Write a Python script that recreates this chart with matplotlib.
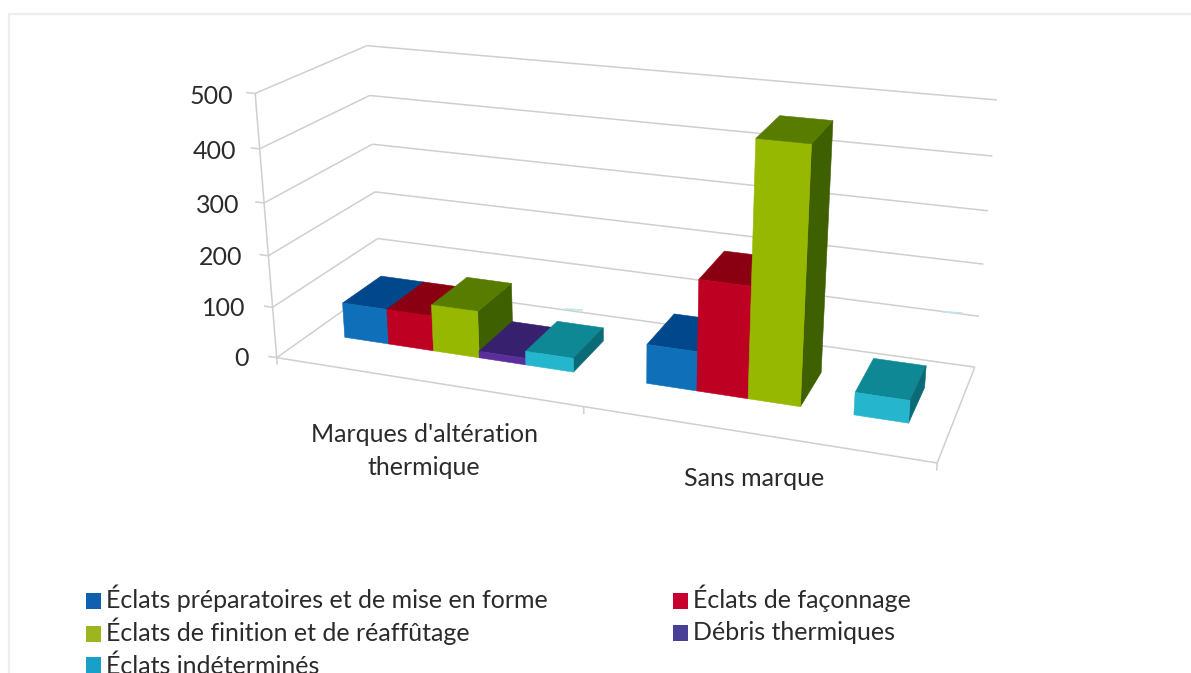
import numpy as np
import matplotlib
matplotlib.use("Agg")
import matplotlib.pyplot as plt
from matplotlib.lines import Line2D
from matplotlib.patches import Patch
from mpl_toolkits.mplot3d import Axes3D  # noqa: F401
from mpl_toolkits.mplot3d.art3d import Line3DCollection

# ---- data -------------------------------------------------------------
categories = ["Marques d'altération\nthermique", "Sans marque"]
series_names = ["Éclats préparatoires et de mise en forme", "Éclats de façonnage",
                "Éclats de finition et de réaffûtage", "Débris thermiques",
                "Éclats indéterminés"]
prep = [70, 75]
faconnage = [70, 210]
finition = [92, 470]
debris = [13, 0]
indetermines = [27, 42]
series_values = [prep, faconnage, finition, debris, indetermines]
z_ticks = [0, 100, 200, 300, 400, 500]

# ---- styles -----------------------------------------------------------
front = ["#0F6FB9", "#BE0022", "#97B800", "#5A2E9C", "#25B6CE"]
top = ["#00478C", "#8A0012", "#587C00", "#37206E", "#0E8894"]
side = ["#003A70", "#6E000E", "#3F6000", "#2A1858", "#0A6A75"]
legend_cols = ["#1060B0", "#C8002F", "#9FB520", "#4A3F96", "#18A0C8"]
FONT = "Lato"
FS = 18
W, H = 1191, 673
GRID = "#CFCFCF"
TXT = "#2B2B2B"

# ---- camera: box corners (cat, depth, value/500) seen at pixel positions
src = np.array([[0, 0, 0], [0, 0, 1], [0, 1, 0], [0, 1, 1],
                [1, 1, 0], [1, 1, 1], [1, 0, 0]], float)
dst = np.array([[277, 358], [255, 93], [380, 284], [367, 46],
                [975, 367], [997, 100], [937, 463]], float)
A, b = [], []
for (X, Y, Z), (u, v) in zip(src, dst):
    A.append([X, Y, Z, 1, 0, 0, 0, 0, -u*X, -u*Y, -u*Z])
    b.append(u)
    A.append([0, 0, 0, 0, X, Y, Z, 1, -v*X, -v*Y, -v*Z])
    b.append(v)
sol = np.linalg.lstsq(np.array(A), np.array(b), rcond=None)[0]
P = np.append(sol, 1.0).reshape(3, 4) @ np.diag([0.5, 1, 1/500, 1])

fig = plt.figure(figsize=(W/100, H/100), dpi=100, facecolor="white")
ax = fig.add_axes([0, 0, 1, 1], projection="3d", computed_zorder=False)
ax.apply_aspect = lambda position=None: None
ax.set_axis_off()
ax.set_autoscale_on(False)


def pixel_proj():
    flip = np.array([[1, 0, 0], [0, -1, H], [0, 0, 1]], float)
    H2 = ax.transData.inverted().get_matrix() @ flip @ P
    depth = H2[2].copy()
    depth[3] -= 0.5
    return np.vstack([H2[0], H2[1], depth, H2[2]])


ax.get_proj = pixel_proj


def to_pixel(x, y, z):
    q = P @ np.array([x, y, z, 1.0])
    return q[0]/q[2], q[1]/q[2]


# ---- walls, floor, ticks ----------------------------------------------
segs = []
for v in z_ticks:
    segs += [[(0, 0, v), (0, 1, v)], [(0, 1, v), (2, 1, v)], [(-0.03, 0, v), (0, 0, v)]]
    px, py = to_pixel(-0.10 + 0.024*v/500, 0, v - 10)
    fig.text(px/W, 1 - py/H, str(v), ha="right", va="center", fontsize=FS,
             family=FONT, color=TXT)
segs += [[(0, 0, 0), (0, 0, 500)], [(0, 0, 0), (2, 0, 0)], [(2, 0, 0), (2, 1, 0)]]
for c in range(len(categories) + 1):
    segs.append([(c, 0, 0), (c, 0, -14)])
ax.add_collection3d(Line3DCollection(segs, colors=GRID, linewidths=1.1, zorder=1))

# ---- bars -------------------------------------------------------------
n = len(series_values)
GAP = 1.5
bw = 1 / (n + GAP)
y0, y1 = 0.32, 0.70
clear = (0, 0, 0, 0)
z = 2
for c in range(len(categories)):
    for s, vals in enumerate(series_values):
        if vals[c] == 0:
            continue
        faces = [clear, top[s], front[s], clear, clear, side[s]]
        ax.bar3d(c + (GAP/2 + s)*bw, y0, 0, bw, y1 - y0, vals[c], color=faces,
                 edgecolor=faces, linewidth=0.4, shade=False, zorder=z)
        z += 1

# ---- texts, legend, frame ---------------------------------------------
label_pos = [(424, 451), (754, 479)]
for name, (px, py) in zip(categories, label_pos):
    fig.text(px/W, 1 - py/H, name, ha="center", va="center", fontsize=FS,
             family=FONT, color=TXT, linespacing=1.5)

order = (0, 2, 4, 1, 3)
handles = [Patch(facecolor=legend_cols[i], edgecolor="none", label=series_names[i])
           for i in order]
leg = fig.legend(handles=handles, ncol=2, loc="upper left",
                 bbox_to_anchor=(86/W, 1 - 585/H), frameon=False, borderaxespad=0,
                 borderpad=0, handlelength=0.6, handleheight=0.6, handletextpad=0.22,
                 labelspacing=0.28, columnspacing=4.98, labelcolor=TXT,
                 prop={"family": FONT, "size": FS})
# Even out the row pitch: legend rows differ with their glyphs' descent.
text_nudge_px = [0, 2, -1, 0, -2]
mark_nudge_px = [-1.5, 0, -0.5, -1.5, -3.5]
for t, dt, p, dm in zip(leg.get_texts(), text_nudge_px, leg.get_patches(), mark_nudge_px):
    t.set_y(dt)
    p.set_y(p.get_y() + dm*0.72)

for xs, ys in [([9, W], [14, 14]), ([9, 9], [14, H])]:
    fig.add_artist(Line2D(np.array(xs)/W, 1 - np.array(ys)/H, color="#EDEDED", lw=1.6))
for xs, ys in [([565, 582], [309, 310]), ([944, 962], [312, 313])]:
    fig.add_artist(Line2D(np.array(xs)/W, 1 - np.array(ys)/H, color="#BFE6EC", lw=1.2))

fig.savefig("out.png", dpi=100)
